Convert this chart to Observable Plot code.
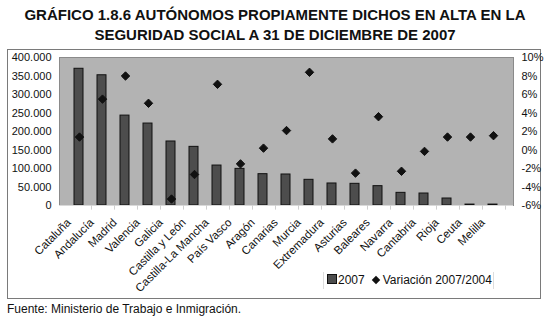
<!DOCTYPE html>
<html><head><meta charset="utf-8">
<script src="https://cdn.jsdelivr.net/npm/d3@7"></script>
<script src="https://cdn.jsdelivr.net/npm/@observablehq/plot@0.6"></script>
<style>
body{margin:0;background:#fff;font-family:"Liberation Sans",Arial,sans-serif;width:550px;height:324px;position:relative;overflow:hidden;color:#111}
#title{position:absolute;left:0;top:5px;width:550px;text-align:center;font-weight:bold;font-size:15px;line-height:20px}
#box{position:absolute;left:7px;top:49px;width:532px;height:248px;border:1px solid #7a7a7a}
#box svg{position:absolute;left:0;top:0;overflow:visible}
#legend{position:absolute;left:315px;top:222px;width:169px;height:17px;border-left:1px solid #ddd;border-right:1px solid #ddd;font-size:12px;line-height:17px;white-space:nowrap}
#legend .sq{display:inline-block;width:8px;height:8px;background:#4d4d4d;border:1px solid #111;margin:0 1px 0 3px;vertical-align:0px}
#legend .dm{display:inline-block;width:6px;height:6px;background:#111;transform:rotate(45deg);margin:0 4px 0 8px;vertical-align:1px}
#foot{position:absolute;left:7px;top:302px;font-size:12px}
</style></head>
<body>
<div id="title">GRÁFICO 1.8.6 AUTÓNOMOS PROPIAMENTE DICHOS EN ALTA EN LA<br>SEGURIDAD SOCIAL A 31 DE DICIEMBRE DE 2007</div>
<div id="box"><div id="legend"><span class="sq"></span>2007<span class="dm"></span>Variación 2007/2004</div></div>
<div id="foot">Fuente: Ministerio de Trabajo e Inmigración.</div>
<script>
const regiones = ["Cataluña","Andalucía","Madrid","Valencia","Galicia","Castilla y León","Castilla-La Mancha","País Vasco","Aragón","Canarias","Murcia","Extremadura","Asturias","Baleares","Navarra","Cantabria","Rioja","Ceuta","Melilla"];
const altas2007 = [369500, 352000, 243000, 221500, 173000, 158500, 108000, 99000, 84700, 83800, 69400, 59500, 58600, 52300, 34200, 32400, 18900, 2500, 2500];
const variacion = [1.4, 5.5, 8.0, 5.05, -5.3, -2.65, 7.1, -1.5, 0.2, 2.1, 8.4, 1.2, -2.5, 3.6, -2.3, -0.15, 1.4, 1.4, 1.55];
const ticksIzq = [0,50000,100000,150000,200000,250000,300000,350000,400000];
const ticksDer = [-6,-4,-2,0,2,4,6,8,10];

const datos = regiones.map((r,i)=>({region:r, valor:altas2007[i], variacion:variacion[i]}));
const es = d3.formatLocale({decimal:",", thousands:".", grouping:[3], currency:["","€"]});
const fmt = es.format(",d");

const W=532,H=248,mL=51,mR=27,mT=7,mB=93;
const common = {width:W,height:H,marginLeft:mL,marginRight:mR,marginTop:mT,marginBottom:mB,
  style:{fontFamily:"Liberation Sans, Arial, sans-serif",fontSize:"11px",color:"#111",background:"transparent",overflow:"visible"}};
const xs = {domain:regiones, padding:0.6, align:0.5};

const p1 = Plot.plot({...common,
  x:{...xs},
  y:{domain:[0,400000]},
  marks:[
    Plot.frame({fill:"#b3b3b3", stroke:"#8a8a8a"}),
    Plot.barY(datos,{x:"region", y:"valor", fill:"#4d4d4d", stroke:"#111", strokeWidth:1}),
    Plot.axisY({ticks:ticksIzq, tickFormat:fmt, tickSize:0, tickPadding:8, label:null, fontSize:11}),
    Plot.axisX({tickRotate:-45, tickSize:0, tickPadding:15, dx:-10, label:null, fontSize:11.5})
  ]});
const p2 = Plot.plot({...common,
  x:{...xs, axis:null},
  y:{domain:[-6,10]},
  marks:[
    Plot.ruleY([-6], {stroke:"#d9d9d9"}),
    Plot.ruleX(datos,{x:"region", y1:-6, y2:-6.5, dx:12, stroke:"#d0d0d0", clip:false}),
    Plot.dot(datos,{x:"region", y:"variacion", symbol:"diamond2", r:3.8, fill:"#111", stroke:"#111", strokeWidth:1}),
    Plot.axisY({anchor:"right", ticks:ticksDer, tickFormat:d=>d+"%", tickSize:0, tickPadding:8, textAnchor:"start", label:null, fontSize:11})
  ]});
const box = document.getElementById("box");
box.prepend(p2); box.prepend(p1);
</script>
</body></html>
